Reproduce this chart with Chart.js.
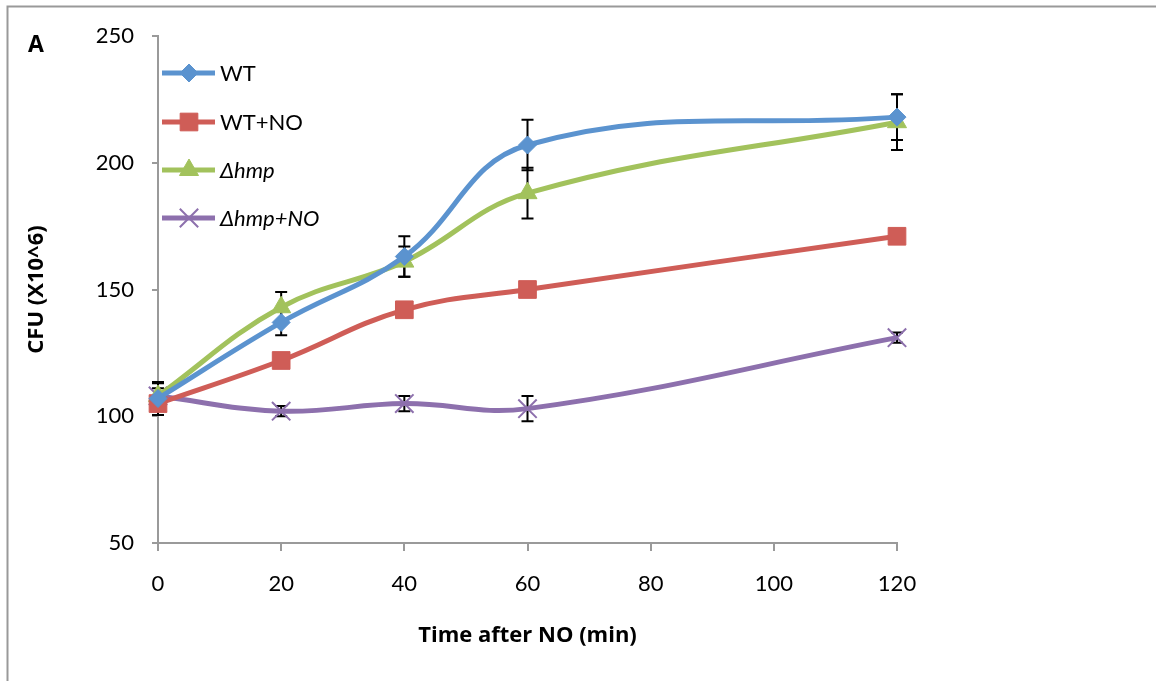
<!DOCTYPE html>
<html>
<head>
<meta charset="utf-8">
<title>CFU after NO</title>
<script src="https://cdn.jsdelivr.net/npm/chart.js@4/dist/chart.umd.min.js"></script>
<style>
    body { margin: 0; background: #ffffff; }
    canvas { display: block; }
</style>
</head>
<body>
<canvas id="cfuChart" width="1156" height="681"></canvas>
<script>
// Time points (min)
const timePoints = [0, 20, 40, 60, 120];

// Series values (CFU x10^6) and their error bars
const wtValues = [107, 137, 163, 207, 218];
const wtErrors = [6.5, 5, 8, 10, 9];

const wtNoValues = [105, 122, 142, 150, 171];
const wtNoErrors = [1.5, 1.5, 1.5, 1.5, 1.5];

const hmpValues = [108, 143, 161, 188, 216];
const hmpErrors = [5, 6, 6, 10, 11];

const hmpNoValues = [108, 102, 105, 103, 131];
const hmpNoErrors = [3, 2, 3, 5, 2];

// Axis ticks
const xTicks = [0, 20, 40, 60, 80, 100, 120];
const yTicks = [50, 100, 150, 200, 250];

// Legend labels
const seriesLabels = ['WT', 'WT+NO', 'Δhmp', 'Δhmp+NO'];

const FONT = 'Lato, "Open Sans", sans-serif';
const TITLE_FONT = '"Open Sans", Lato, sans-serif';

// Build one dataset from the arrays
function makeSeries(label, values, errors, color, style, radius, italic) {
    return {
        label: label,
        data: timePoints.map((t, i) => ({ x: t, y: values[i] })),
        errors: errors,
        italic: italic,
        clip: false,
        borderColor: color,
        backgroundColor: color,
        borderWidth: 5,
        tension: 0.4,
        pointStyle: style,
        pointRadius: radius,
        pointBorderColor: color,
        pointBackgroundColor: color,
        pointBorderWidth: style === 'crossRot' ? 2 : 1
    };
}

const datasets = [
    makeSeries(seriesLabels[0], wtValues, wtErrors, '#5b93cf', 'rectRot', 9, false),
    makeSeries(seriesLabels[1], wtNoValues, wtNoErrors, '#cf5d57', 'rect', 12.5, false),
    makeSeries(seriesLabels[2], hmpValues, hmpErrors, '#a2c25c', 'triangle', 11, true),
    makeSeries(seriesLabels[3], hmpNoValues, hmpNoErrors, '#8d70ad', 'crossRot', 13, true)
];

// Error bars, drawn under the lines
const errorBarPlugin = {
    id: 'errorBars',
    beforeDatasetsDraw(chart) {
        const ctx = chart.ctx;
        const xs = chart.scales.x;
        const ys = chart.scales.y;
        ctx.save();
        ctx.strokeStyle = '#000000';
        ctx.lineWidth = 2;
        chart.data.datasets.forEach(ds => {
            ds.data.forEach((p, i) => {
                const err = ds.errors[i];
                const x = xs.getPixelForValue(p.x);
                const top = ys.getPixelForValue(p.y + err);
                const bottom = ys.getPixelForValue(p.y - err);
                ctx.beginPath();
                ctx.moveTo(x, top);
                ctx.lineTo(x, bottom);
                ctx.moveTo(x - 6, top);
                ctx.lineTo(x + 6, top);
                ctx.moveTo(x - 6, bottom);
                ctx.lineTo(x + 6, bottom);
                ctx.stroke();
            });
        });
        ctx.restore();
    }
};

// Legend inside the plot, frame and panel letter
const decorPlugin = {
    id: 'decor',
    afterDraw(chart) {
        const ctx = chart.ctx;
        ctx.save();

        // Outer frame (top and left edges)
        ctx.strokeStyle = '#999999';
        ctx.lineWidth = 2;
        ctx.beginPath();
        ctx.moveTo(7.5, 681);
        ctx.lineTo(7.5, 6.5);
        ctx.lineTo(1156, 6.5);
        ctx.stroke();

        // Panel letter
        ctx.fillStyle = '#000000';
        ctx.font = 'bold 23px ' + TITLE_FONT;
        ctx.textBaseline = 'middle';
        ctx.textAlign = 'left';
        ctx.fillText('A', 28, 45);

        // Legend rows
        const rowY = [73, 122, 170, 218];
        chart.data.datasets.forEach((ds, i) => {
            const y = rowY[i];
            ctx.strokeStyle = ds.borderColor;
            ctx.lineWidth = 5;
            ctx.beginPath();
            ctx.moveTo(162, y);
            ctx.lineTo(215, y);
            ctx.stroke();
            ctx.fillStyle = ds.pointBackgroundColor;
            ctx.strokeStyle = ds.pointBorderColor;
            ctx.lineWidth = ds.pointBorderWidth;
            Chart.helpers.drawPoint(ctx, {
                pointStyle: ds.pointStyle,
                radius: ds.pointRadius,
                borderWidth: ds.pointBorderWidth,
                rotation: 0
            }, 189, y);
            ctx.fillStyle = '#000000';
            ctx.font = (ds.italic ? 'italic ' : '') + '22px ' + FONT;
            ctx.fillText(ds.label, 220, y + 1);
        });

        ctx.restore();
    }
};

const chart = new Chart(document.getElementById('cfuChart'), {
    type: 'line',
    data: { datasets: datasets },
    options: {
        responsive: false,
        animation: false,
        layout: {
            padding: { left: 0, top: 36, right: 259, bottom: 0 }
        },
        plugins: {
            legend: { display: false },
            tooltip: { enabled: false }
        },
        scales: {
            x: {
                type: 'linear',
                min: xTicks[0],
                max: xTicks[xTicks.length - 1],
                afterFit(scale) { scale.height = 138; },
                afterBuildTicks(scale) { scale.ticks = xTicks.map(v => ({ value: v })); },
                border: { display: true, color: '#9a9a9a', width: 2 },
                grid: { drawOnChartArea: false, drawTicks: true, tickLength: 8, color: '#9a9a9a', lineWidth: 2 },
                ticks: { color: '#000000', padding: 20, font: { family: FONT, size: 22 } },
                title: {
                    display: true,
                    text: 'Time after NO (min)',
                    color: '#000000',
                    font: { family: TITLE_FONT, size: 22, weight: 'bold' },
                    padding: { top: 0, bottom: 32 }
                }
            },
            y: {
                min: yTicks[0],
                max: yTicks[yTicks.length - 1],
                afterFit(scale) { scale.width = 158; },
                afterBuildTicks(scale) { scale.ticks = yTicks.map(v => ({ value: v })); },
                border: { display: true, color: '#9a9a9a', width: 2 },
                grid: { drawOnChartArea: false, drawTicks: true, tickLength: 6, color: '#9a9a9a', lineWidth: 2 },
                ticks: { color: '#000000', padding: 18, font: { family: FONT, size: 22 } },
                title: {
                    display: true,
                    text: 'CFU (X10^6)',
                    color: '#000000',
                    font: { family: TITLE_FONT, size: 22, weight: 'bold' },
                    padding: { top: 24, bottom: 0 }
                }
            }
        }
    },
    plugins: [errorBarPlugin, decorPlugin]
});
</script>
</body>
</html>
